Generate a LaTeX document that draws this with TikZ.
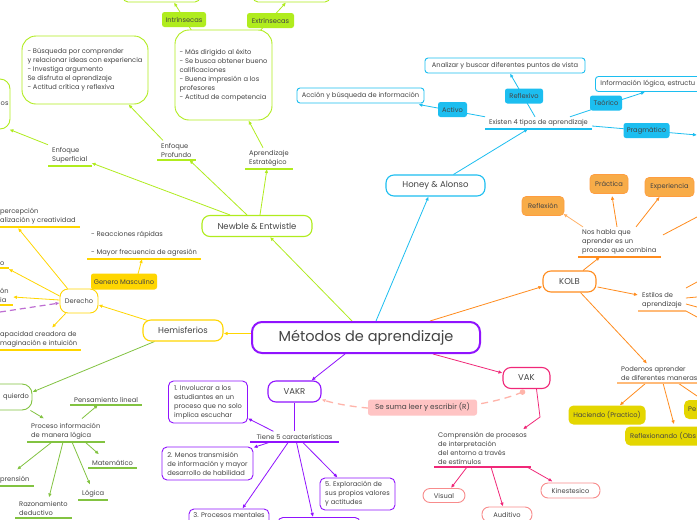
\documentclass[tikz,border=0pt]{standalone}
\usepackage{fontspec}
\setmainfont{Poppins}
\usetikzlibrary{arrows.meta}

\definecolor{mmviolet}{RGB}{144,19,254}
\definecolor{mmlime}{RGB}{176,236,30}
\definecolor{mmsky}{RGB}{28,190,240}
\definecolor{mmorange}{RGB}{255,140,30}
\definecolor{mmhex}{RGB}{248,172,72}
\definecolor{mmpink}{RGB}{240,40,120}
\definecolor{mmsalmon}{RGB}{255,196,196}
\definecolor{mmsalmondash}{RGB}{255,180,170}
\definecolor{mmsoftpink}{RGB}{248,140,140}
\definecolor{mmyellow}{RGB}{255,214,0}
\definecolor{mmgreen}{RGB}{130,195,65}
\definecolor{mmolive}{RGB}{228,214,0}
\definecolor{mmlilac}{RGB}{190,110,210}
\definecolor{mmtext}{RGB}{68,68,68}

\pgfdeclarelayer{bg}
\pgfsetlayers{bg,main}

\begin{document}
\begin{tikzpicture}[x=1pt,y=-1pt,>={Latex[length=4pt,width=3.6pt]},
  every node/.style={text=mmtext},
  smalltxt/.style={font=\fontsize{6.7}{9}\selectfont},
  topic/.style={draw=#1,line width=1.1pt,fill=white,rounded corners=8pt,font=\fontsize{8.5}{10}\selectfont,inner sep=0pt,minimum height=21pt},
  leaf/.style={smalltxt,align=left,anchor=south west,inner xsep=4pt,inner ysep=2.5pt},
  card/.style={draw=#1,line width=0.9pt,fill=white,rounded corners=5pt,smalltxt,align=left,inner sep=0pt},
  tag/.style={fill=#1,rounded corners=2.5pt,smalltxt,inner sep=0pt,minimum height=15pt},
  hexa/.style={fill=mmhex,draw=mmorange!85,line width=0.6pt,rounded corners=4pt,smalltxt,inner sep=0pt,minimum height=19pt},
  blob/.style={fill=mmolive,rounded corners=5pt,smalltxt,inner sep=0pt,minimum height=19pt},
  link/.style={draw=#1,line width=0.8pt,->}]
\useasboundingbox (0,0) rectangle (697,520);
\clip (0,0) rectangle (697,520);

\node[topic=mmviolet,line width=2pt,rounded corners=10pt,minimum width=228pt,minimum height=31pt,font=\fontsize{14.5}{16}\selectfont] (main) at (366,337.5) {Métodos de aprendizaje};

% Newble & Entwistle
\node[topic=mmlime,minimum width=110pt] (newble) at (257,226) {Newble \& Entwistle};
\node[leaf] (esup) at (48,166) {Enfoque\\Superficial};
\node[leaf] (eprof) at (157,160) {Enfoque\\Profundo};
\node[leaf] (aestr) at (245,169) {Aprendizaje\\Estratégico};
\node[card=mmlime,rounded corners=10pt,text width=60pt,inner xsep=1.5pt,align=right,minimum height=50pt] (supbox) at (-21.5,104) {os};
\node[card=mmlime,rounded corners=14pt,minimum width=126pt,minimum height=68pt] (eprofbox) at (85,70) {- Búsqueda por comprender\\y relacionar ideas con experiencia\\- Investiga argumento\\Se disfruta el aprendizaje\\- Actitud crítica y reflexiva};
\node[card=mmlime,rounded corners=14pt,minimum width=97pt,minimum height=90pt] (aestrbox) at (223.5,75) {- Más dirigido al éxito\\- Se busca obtener bueno\\calificaciones\\- Buena impresión a los\\profesores\\- Actitud de competencia};
\node[card=mmlime,minimum width=77pt,minimum height=22pt] (intrbox) at (161.5,-9) {};
\node[card=mmlime,minimum width=77pt,minimum height=22pt] (extrbox) at (291.5,-9) {};
\node[tag=mmlime,minimum width=44pt] (intr) at (184,19.5) {Intrínsecas};
\node[tag=mmlime,minimum width=47pt] (extr) at (270.5,20.5) {Extrínsecas};

% Honey & Alonso
\node[topic=mmsky,minimum width=99pt] (honey) at (435.5,185.5) {Honey \& Alonso};
\node[leaf] (existen) at (485,129) {Existen 4 tipos de aprendizaje};
\node[card=mmsky,rounded corners=3pt,align=center,minimum width=127pt,minimum height=15pt] (accion) at (360.5,95.5) {Acción y búsqueda de información};
\node[card=mmsky,rounded corners=3pt,align=center,minimum width=160pt,minimum height=15pt] (analizar) at (505,65.5) {Analizar y buscar diferentes puntos de vista};
\node[card=mmsky,rounded corners=3pt,anchor=west,text width=130pt,inner xsep=5pt,minimum height=15pt] (infolog) at (595,84) {Información lógica, estructu};
\node[tag=mmsky,minimum width=29pt] (activo) at (452.5,109.5) {Activo};
\node[tag=mmsky,minimum width=38pt] (reflexivo) at (524,96) {Reflexivo};
\node[tag=mmsky,minimum width=32pt] (teorico) at (606,103) {Teórico};
\node[tag=mmsky,minimum width=46pt] (pragmatico) at (646.5,130.5) {Pragmático};
\coordinate (pragend) at (697,135);

% KOLB
\node[topic=mmorange,minimum width=53pt] (kolb) at (569.5,281.5) {KOLB};
\node[leaf] (noshabla) at (578,257) {Nos habla que\\aprender es un\\proceso que combina};
\node[hexa,minimum width=42pt] (reflexion) at (543,206) {Reflexión};
\node[hexa,minimum width=38pt] (practica) at (609,184) {Práctica};
\node[hexa,minimum width=49pt] (experiencia) at (669.5,187) {Experiencia};
\coordinate (kolbend) at (697,217);
\node[leaf] (estilos) at (638,311) {Estilos de\\aprendizaje};
\coordinate (est1) at (697,282);
\coordinate (est2) at (697,297);
\coordinate (est3) at (697,307);
\coordinate (est4) at (697,317);
\node[leaf] (podemos) at (617,383) {Podemos aprender\\de diferentes maneras};
\node[blob,minimum width=77pt] (haciendo) at (607,415) {Haciendo (Practico)};
\node[blob,anchor=west,text width=90pt,inner xsep=5pt] (reflexionando) at (625,436) {Reflexionando (Obs};
\node[blob,anchor=west,text width=30pt,inner xsep=4pt] (pe) at (684,409.5) {Pe};
\coordinate (peend) at (697,396);

% VAK
\node[topic=mmpink,minimum width=47pt] (vak) at (526.5,378) {VAK};
\node[tag=mmsalmon,minimum width=109pt,minimum height=16pt,font=\fontsize{7.3}{9}\selectfont] (suma) at (422.5,407.5) {Se suma leer y escribir (R)};
\node[leaf] (compr) at (434,467) {Comprensión de procesos\\de interpretación\\del entorno a través\\de estímulos};
\node[card=mmsoftpink,rounded corners=7pt,align=center,minimum width=42pt,minimum height=14pt] (visual) at (444,495.5) {Visual};
\node[card=mmsoftpink,rounded corners=7pt,align=center,minimum width=50pt,minimum height=15pt] (auditivo) at (507,514.5) {Auditivo};
\node[card=mmsoftpink,rounded corners=7pt,align=center,minimum width=59pt,minimum height=15pt] (kines) at (570.5,490.5) {Kinestesico};

% VAKR
\node[topic=mmviolet,minimum width=53pt] (vakr) at (294.5,391.5) {VAKR};
\node[leaf,anchor=south,inner xsep=6pt] (tiene) at (294.5,442) {Tiene 5 características};
\node[card=mmviolet,minimum width=79pt,minimum height=42pt] (car1) at (208,402) {1. Involucrar a los\\estudiantes en un\\proceso que no solo\\implica escuchar};
\node[card=mmviolet,minimum width=91pt,minimum height=33pt] (car2) at (207.5,463.5) {2. Menos transmisión\\de información y mayor\\desarrollo de habilidad};
\node[card=mmviolet,anchor=north,minimum width=80pt,inner ysep=4pt,text depth=20pt] (car3) at (229,508.5) {3. Procesos mentales};
\node[card=mmviolet,anchor=north,minimum width=82pt,minimum height=20pt] (car4) at (319,517) {};
\node[card=mmviolet,minimum width=75pt,minimum height=32pt] (car5) at (357.5,494) {5. Exploración de\\sus propios valores\\y actitudes};

% Hemisferios
\node[topic=mmyellow,minimum width=80pt] (hemis) at (183,330.5) {Hemisferios};
\node[card=mmyellow,rounded corners=8pt,align=center,minimum width=38pt,minimum height=24pt] (derecho) at (79,301) {Derecho};
\node[tag=mmyellow,minimum width=66pt,minimum height=16pt] (genero) at (124,281.5) {Genero Masculino};
\node[leaf] (reacc) at (87,259) {- Reacciones rápidas\\[9pt]- Mayor frecuencia de agresión};
\node[leaf] (dpercep) at (-4,227) {percepción\\alización y creatividad};
\node[leaf] (dro) at (-4,268) {o};
\node[leaf] (dron) at (-4,305) {ón\\ia};
\node[leaf] (dcap) at (-4,350) {apacidad creadora de\\maginación e intuición};
\coordinate (dashst) at (0,312);
\node[card=mmgreen,rounded corners=10pt,text width=56pt,inner xsep=3pt,align=right,minimum height=26pt] (izq) at (1,397) {quierdo};
\node[leaf] (proc) at (27,442) {Proceso información\\de manera lógica};
\node[leaf] (pens) at (70,405) {Pensamiento lineal};
\node[leaf] (mate) at (88,468) {Matemático};
\node[leaf] (logi) at (78,500) {Lógica};
\node[leaf] (razo) at (15,518) {Razonamiento\\deductivo};
\node[leaf] (prens) at (-4,486) {prensión};

\foreach \n/\c in {esup/mmlime,eprof/mmlime,aestr/mmlime,existen/mmsky,noshabla/mmorange,estilos/mmorange!60,podemos/mmorange!60,compr/mmpink,tiene/mmviolet,reacc/mmyellow,dpercep/mmyellow,dro/mmyellow,dron/mmyellow,dcap/mmyellow,proc/mmgreen,pens/mmgreen,mate/mmgreen,logi/mmgreen,razo/mmgreen,prens/mmgreen}
  \draw[\c,line width=1.2pt] (\n.south west) -- (\n.south east);

\fill[mmsalmondash] ([shift={(-4,3)}]vak.south) circle (2.8);

\begin{pgfonlayer}{bg}
\fill[white] (0,0) rectangle (697,520);
% main branches
\draw[link=mmlime] ([shift={(-14,0)}]main.north) -- ([shift={(13,0)}]newble.south);
\draw[link=mmsky] ([shift={(10,0)}]main.north) -- ([shift={(-7,0)}]honey.south);
\draw[link=mmorange] ([shift={(64,0)}]main.north) -- ([shift={(0,5)}]kolb.west);
\draw[link=mmpink] ([shift={(67,0)}]main.south) -- ([shift={(0,-5)}]vak.west);
\draw[link=mmviolet] ([shift={(-21,0)}]main.south) -- ([shift={(17,0)}]vakr.north);
\draw[link=mmyellow] ([shift={(0,-4)}]main.west) -- ([shift={(0,3)}]hemis.east);
% Newble
\draw[link=mmlime] ([shift={(-27,0)}]newble.north) -- ([shift={(0,-3)}]esup.south east);
\draw[link=mmlime] ([shift={(-10,0)}]newble.north) -- ([shift={(13,0)}]eprof.south);
\draw[link=mmlime] ([shift={(3,0)}]newble.north) -- ([shift={(-2,0)}]aestr.south);
\draw[link=mmlime] (esup.north west) -- ([shift={(-1,0)}]supbox.south east);
\draw[link=mmlime] ([shift={(6,0)}]eprof.north west) -- ([shift={(-20,0)}]eprofbox.south east);
\draw[link=mmlime] ([shift={(18,0)}]aestr.north west) -- ([shift={(25,0)}]aestrbox.south);
\draw[link=mmlime] ([shift={(-30,4)}]aestrbox.north) -- ([shift={(12.5,0)}]intrbox.south);
\draw[link=mmlime] ([shift={(34,4)}]aestrbox.north) -- ([shift={(-5.5,0)}]extrbox.south);
% Honey
\draw[link=mmsky] ([shift={(18,0)}]honey.north) -- ([shift={(43,0)}]existen.south west);
\draw[link=mmsky] (existen.north west) -- ([shift={(-6,1)}]accion.south east);
\draw[link=mmsky] ([shift={(50,0)}]existen.north west) -- ([shift={(5,0)}]analizar.south);
\draw[link=mmsky] ([shift={(85,0)}]existen.north west) -- ([shift={(50,0)}]infolog.south west);
\draw[link=mmsky] ([shift={(0,-3)}]existen.south east) -- (pragend);
% KOLB
\draw[link=mmorange] ([shift={(13.5,0)}]kolb.north) -- ([shift={(22,0)}]noshabla.south west);
\draw[link=mmorange!70] ([shift={(5,0)}]noshabla.north west) -- ([shift={(-1,-2)}]reflexion.south east);
\draw[link=mmorange] ([shift={(39,0)}]noshabla.north west) -- ([shift={(3,2)}]practica.south);
\draw[link=mmorange] ([shift={(58,0)}]noshabla.north west) -- ([shift={(15,0)}]experiencia.south west);
\draw[mmorange,line width=0.8pt] ([shift={(85,8)}]noshabla.north west) -- (kolbend);
\draw[link=mmorange] ([shift={(1,5.5)}]kolb.east) -- ([shift={(0,-16)}]estilos.south west);
\foreach \k/\d in {1/-23,2/-13,3/-7,4/0}
  \draw[mmorange,line width=0.8pt] ([shift={(0,\d)}]estilos.south east) -- (est\k);
\draw[link=mmorange] ([shift={(11,0)}]kolb.south) -- ([shift={(30,0)}]podemos.north west);
\draw[link=mmorange] ([shift={(29,0)}]podemos.south west) -- ([shift={(-26,0)}]haciendo.north east);
\draw[link=mmorange] ([shift={(46,0)}]podemos.south west) -- ([shift={(49,-2)}]reflexionando.north west);
\draw[mmorange,line width=0.8pt] ([shift={(61,0)}]podemos.south west) -- (peend);
% VAK
\draw[link=mmpink] ([shift={(10,0)}]vak.south) -- ++(3.5,28) -- ([shift={(89,0)}]compr.north west);
\draw[link=mmpink] ([shift={(33,0)}]compr.south west) -- ([shift={(7,0)}]visual.north);
\draw[link=mmpink] ([shift={(57,0)}]compr.south west) -- ([shift={(-4,0)}]auditivo.north);
\draw[link=mmpink] ([shift={(93,0)}]compr.south west) -- ([shift={(12,-1)}]kines.north west);
\draw[mmsalmondash,line width=1.3pt,dash pattern=on 7pt off 5pt,->] ([shift={(-4,3)}]vak.south) .. controls (470,414) and (370,414) .. ([shift={(0,-3)}]vakr.south east);
% VAKR
\draw[mmviolet,line width=0.8pt] (vakr.south) -- (tiene.north);
\draw[link=mmviolet] ([shift={(23,0)}]tiene.north west) -- ([shift={(0,-5)}]car1.south east);
\draw[link=mmviolet] ([shift={(20,0)}]tiene.south west) -- ([shift={(0,1)}]car2.north east);
\draw[link=mmviolet] ([shift={(38,0)}]tiene.south west) -- ([shift={(-27,0)}]car3.north east);
\draw[link=mmviolet] ([shift={(46,0)}]tiene.south west) -- ([shift={(-6,0)}]car4.north);
\draw[link=mmviolet] ([shift={(52,0)}]tiene.south west) -- ([shift={(18,0)}]car5.north west);
% Hemisferios
\draw[link=mmyellow] ([shift={(5,1)}]hemis.north west) -- ([shift={(0,4)}]derecho.east);
\draw[link=mmgreen] ([shift={(12,0)}]hemis.south west) -- ([shift={(0,-5)}]izq.east);
\draw[link=mmyellow] (derecho.north east) -- ([shift={(12,0)}]genero.center) -- ([shift={(55,0)}]reacc.south west);
\draw[link=mmyellow] ([shift={(8,0)}]derecho.north west) -- ([shift={(22,1)}]dpercep.south west);
\draw[link=mmyellow] ([shift={(0,-5)}]derecho.west) -- ([shift={(0,1)}]dro.south east);
\draw[link=mmyellow] ([shift={(0,-1)}]derecho.west) -- ([shift={(0,-8)}]dron.south east);
\draw[link=mmyellow] ([shift={(6,0)}]derecho.south west) -- ([shift={(56,-1)}]dcap.north west);
\draw[link=mmlilac,line width=1.2pt,dash pattern=on 6pt off 4pt] (dashst) -- ([shift={(0,2)}]derecho.west);
\draw[link=mmgreen] ([shift={(-2,0)}]izq.south east) -- ([shift={(17,-2)}]proc.north west);
\draw[link=mmgreen] ([shift={(55,-2)}]proc.north west) -- ([shift={(28,0)}]pens.south west);
\draw[link=mmgreen] ([shift={(58,0)}]proc.south west) -- ([shift={(11,-3)}]mate.north west);
\draw[link=mmgreen] ([shift={(45,0)}]proc.south west) -- ([shift={(12,-3)}]logi.north west);
\draw[link=mmgreen] ([shift={(36,0)}]proc.south west) -- ([shift={(34,-1)}]razo.north west);
\draw[link=mmgreen] ([shift={(25,0)}]proc.south west) -- ([shift={(21,-4)}]prens.north west);
\end{pgfonlayer}
\end{tikzpicture}
\end{document}
